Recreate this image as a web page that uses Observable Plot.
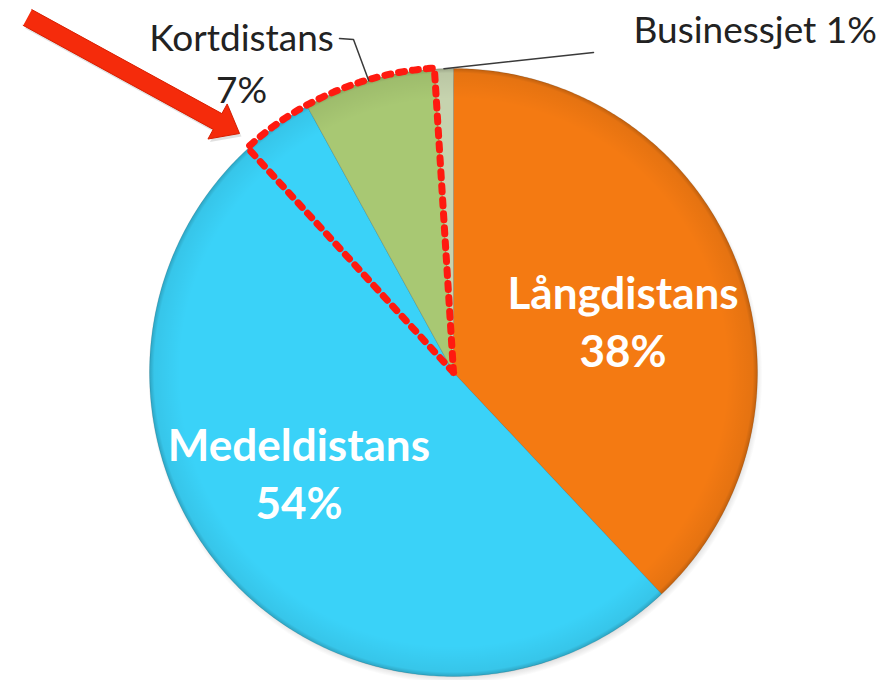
<!DOCTYPE html>
<html><head><meta charset="utf-8">
<script src="https://cdn.jsdelivr.net/npm/d3@7"></script>
<script src="https://cdn.jsdelivr.net/npm/@observablehq/plot@0.6"></script>
<style>body{margin:0;background:#fff;overflow:hidden} #chart{width:887px;height:680px}</style>
</head><body><div id="chart"></div>
<script>
// ---- data ----
const categories = ["Långdistans", "Medeldistans", "Kortdistans", "Businessjet"];
const shares = [38, 54, 7, 1];
const sliceColors = ["#F47A12", "#3AD2F8", "#A8C873", "#C6D3AE"];
const insideLabels = ["Långdistans\n38%", "Medeldistans\n54%"];
const outsideLabels = ["Kortdistans\n7%", "Businessjet 1%"];

// ---- layout ----
const W = 887, H = 680;
const cx = 453, cy = 372, R = 304;
const FONT = "Lato, 'Open Sans', sans-serif";
const insideNudge = [[0, 14], [-7, -8]];

const pieData = d3.pie().sort(null).value(d => d.share)(
  categories.map((c, i) => ({cat: c, share: shares[i]}))
);
const pt = (a, r) => [cx + r * Math.sin(a), cy - r * Math.cos(a)];

// slice polygons derived from pie angles
const slicePts = [];
pieData.forEach(p => {
  const n = Math.max(2, Math.ceil((p.endAngle - p.startAngle) / (Math.PI / 360)));
  slicePts.push({cat: p.data.cat, x: cx, y: cy});
  for (let k = 0; k <= n; k++) {
    const a = p.startAngle + (p.endAngle - p.startAngle) * k / n;
    const [x, y] = pt(a, R);
    slicePts.push({cat: p.data.cat, x, y});
  }
  slicePts.push({cat: p.data.cat, x: cx, y: cy});
});

// inside labels at 0.6R along mid-angle
const inside = pieData.slice(0, 2).map((p, i) => {
  const m = (p.startAngle + p.endAngle) / 2;
  const [x, y] = pt(m, R * 0.6);
  return {x: x + insideNudge[i][0], y: y + insideNudge[i][1], text: insideLabels[i]};
});

// leader lines: from slice mid-angle on the rim outwards
const kort = pieData[2], biz = pieData[3];
const kMid = (kort.startAngle + kort.endAngle) / 2;
const bMid = (biz.startAngle + biz.endAngle) / 2;
const [kx, ky] = pt(kMid, R);
const [bx, by] = pt(bMid, R);
const leaders = [
  {id: "k", x: kx, y: ky}, {id: "k", x: 353, y: 39}, {id: "k", x: 339, y: 38},
  {id: "b", x: bx, y: by}, {id: "b", x: 593, y: 52}
];
const outsideK = [{x: 241, y: 14, text: outsideLabels[0]}];
const outsideB = [{x: 633, y: 16, text: outsideLabels[1]}];

// red dotted highlight outline around the Kortdistans slice
const hlStart = 317.5 * Math.PI / 180, hlEnd = kort.endAngle;
const hlPts = [{x: cx, y: cy}];
for (let k = 0; k <= 60; k++) {
  const a = hlStart + (hlEnd - hlStart) * k / 60;
  const [x, y] = pt(a, R + 1);
  hlPts.push({x, y});
}
hlPts.push({x: cx, y: cy});

// red arrow annotation polygon
function arrowPoly(tx, ty, hx, hy, shaftW, headW, headL) {
  const dx = hx - tx, dy = hy - ty, L = Math.hypot(dx, dy);
  const ux = dx / L, uy = dy / L, px = -uy, py = ux;
  const bx = hx - ux * headL, by = hy - uy * headL;
  const s = shaftW / 2, h = headW / 2;
  return [
    [tx + px * s, ty + py * s], [bx + px * s, by + py * s], [bx + px * h, by + py * h],
    [hx, hy], [bx - px * h, by - py * h], [bx - px * s, by - py * s], [tx - px * s, ty - py * s]
  ].map(([x, y]) => ({x, y}));
}
const arrow = arrowPoly(27, 17, 239, 133, 18, 40, 25);
const arrowShadow = arrowPoly(29, 20, 241, 136, 18, 40, 25);

const chart = Plot.plot({
  width: W, height: H,
  margin: 0,
  x: {domain: [0, W], range: [0, W], axis: null},
  y: {domain: [0, H], range: [0, H], axis: null},
  color: {domain: categories, range: sliceColors},
  style: {background: "#fff", fontFamily: FONT},
  marks: [
    // soft shadow
    Plot.dot([0], {x: () => cx + 2, y: () => cy + 4, r: R + 3, fill: "url(#shadowGrad)", stroke: null}),
    Plot.line(slicePts, {x: "x", y: "y", z: "cat", fill: "cat", stroke: "#000", strokeOpacity: 0.12, strokeWidth: 1, curve: "linear"}),
    Plot.dot([0], {x: () => cx, y: () => cy, r: R, fill: "url(#rimGrad)", stroke: null}),
    Plot.line(hlPts, {x: "x", y: "y", stroke: "#FF1A10", strokeWidth: 7, strokeDasharray: "6 8", strokeLinejoin: "miter"}),
    Plot.line(leaders, {x: "x", y: "y", z: "id", stroke: "#3a3a3a", strokeWidth: 1.5}),
    Plot.text(inside, {x: "x", y: "y", text: "text", fill: "#fff", fontSize: 44, fontWeight: "bold", lineHeight: 1.32, textAnchor: "middle", lineAnchor: "middle", fontFamily: FONT}),
    Plot.text(outsideK, {x: "x", y: "y", text: "text", fill: "#222", fontSize: 37, lineHeight: 1.4, textAnchor: "middle", lineAnchor: "top", fontFamily: FONT}),
    Plot.text(outsideB, {x: "x", y: "y", text: "text", fill: "#222", fontSize: 37, textAnchor: "start", lineAnchor: "top", fontFamily: FONT}),
    Plot.line(arrowShadow, {x: "x", y: "y", fill: "#000", fillOpacity: 0.12, stroke: null}),
    Plot.line(arrow, {x: "x", y: "y", fill: "#F52B0B", stroke: "#D81E00", strokeWidth: 1, strokeLinejoin: "miter"})
  ]
});

const svg = d3.select(chart);
const defs = svg.insert("defs", ":first-child");
const rim = defs.append("radialGradient").attr("id", "rimGrad").attr("cx", "50%").attr("cy", "50%").attr("r", "50%");
rim.append("stop").attr("offset", "0.9").attr("stop-color", "#000").attr("stop-opacity", 0);
rim.append("stop").attr("offset", "0.985").attr("stop-color", "#000").attr("stop-opacity", 0.06);
rim.append("stop").attr("offset", "1").attr("stop-color", "#000").attr("stop-opacity", 0.22);
const sh = defs.append("radialGradient").attr("id", "shadowGrad").attr("cx", "50%").attr("cy", "50%").attr("r", "50%");
sh.append("stop").attr("offset", "0.95").attr("stop-color", "#000").attr("stop-opacity", 0.25);
sh.append("stop").attr("offset", "1").attr("stop-color", "#000").attr("stop-opacity", 0);

document.getElementById("chart").appendChild(chart);
</script>
</body></html>
